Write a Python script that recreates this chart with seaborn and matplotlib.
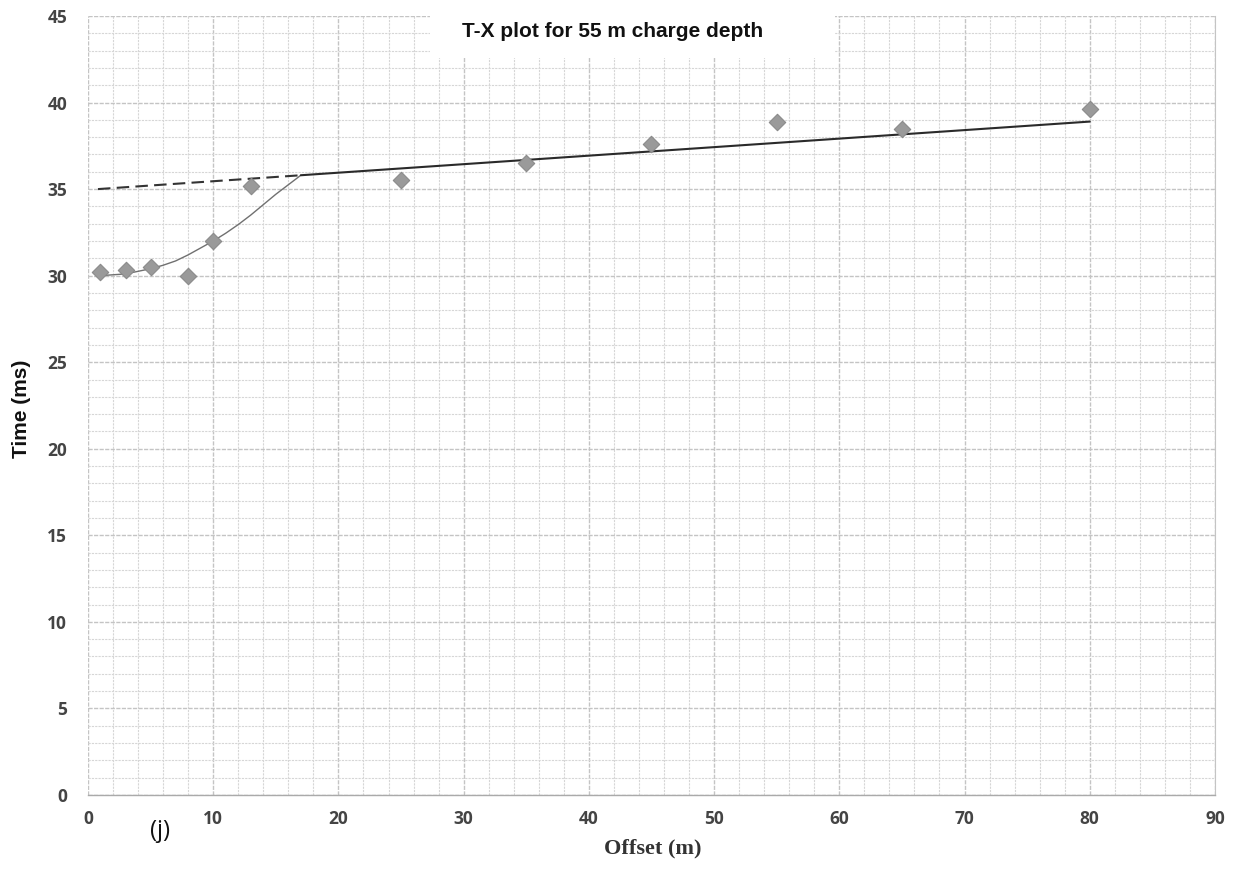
import numpy as np
import pandas as pd
import matplotlib
matplotlib.use("Agg")
import matplotlib.pyplot as plt
import seaborn as sns

# Data
offset_m = [1, 3, 5, 8, 10, 13, 25, 35, 45, 55, 65, 80]
time_ms = [30.2, 30.3, 30.5, 30.0, 32.0, 35.2, 35.5, 36.5, 37.6, 38.9, 38.5, 39.6]

# hand-drawn direct-wave curve
curve_x = [1, 2, 3, 4, 5, 6, 7, 8, 9, 10, 11, 12, 13, 14, 15, 16, 17]
curve_t = [30.0, 30.05, 30.1, 30.25, 30.4, 30.6, 30.85, 31.2, 31.6, 32.0,
           32.45, 32.95, 33.5, 34.1, 34.7, 35.25, 35.8]

# refracted line (dashed extrapolation and solid part)
dash_x = [0.8, 17]
dash_t = [35.0, 35.8]
solid_x = [17, 80]
solid_t = [35.8, 38.9]

x_ticks = [0, 10, 20, 30, 40, 50, 60, 70, 80, 90]
y_ticks = [0, 5, 10, 15, 20, 25, 30, 35, 40, 45]

sns.set_style("white")
fig = plt.figure(figsize=(12.39, 8.69), dpi=100)
ax = fig.add_axes([0.071, 0.0852, 0.9096, 0.8964])

# graph paper grid
ax.set_xticks(np.arange(0, 91, 2), minor=True)
ax.set_yticks(np.arange(0, 46, 1), minor=True)
ax.grid(which="minor", color="#d6d6d6", linestyle=(0, (2, 1)), linewidth=0.8)
ax.grid(which="major", color="#c4c4c4", linestyle=(0, (3, 1)), linewidth=1.0)
ax.set_axisbelow(True)

df = pd.DataFrame({"x": offset_m, "t": time_ms})
sns.lineplot(x=curve_x, y=curve_t, ax=ax, color="#707070", linewidth=1.0, sort=False)
sns.lineplot(x=dash_x, y=dash_t, ax=ax, color="#333333", linewidth=1.5,
             linestyle=(0, (6, 3)), sort=False)
sns.lineplot(x=solid_x, y=solid_t, ax=ax, color="#2a2a2a", linewidth=1.5, sort=False)
sns.scatterplot(data=df, x="x", y="t", ax=ax, marker="D", s=70, color="#9a9a9a",
                edgecolor="#8a8a8a", linewidth=0.8, zorder=5)

ax.set_xlim(0, 90)
ax.set_ylim(0, 45)
ax.set_xticks(x_ticks)
ax.set_yticks(y_ticks)
ax.set_xticklabels([str(v) for v in x_ticks], fontsize=12.5, color="#444444",
                   fontfamily="Open Sans", fontweight="bold")
ax.set_yticklabels([str(v) for v in y_ticks], fontsize=12.5, color="#444444",
                   fontfamily="Open Sans", fontweight="bold")
ax.tick_params(axis="x", which="major", length=5, color="#aaaaaa", pad=6, direction="out")
ax.tick_params(axis="y", which="major", length=5, color="#cccccc", pad=10, direction="out")
ax.tick_params(which="minor", length=0)

for s in ["top", "left"]:
    ax.spines[s].set_visible(False)
ax.spines["right"].set_color("#c4c4c4")
ax.spines["right"].set_linestyle((0, (3, 1)))
ax.spines["bottom"].set_color("#aaaaaa")
ax.spines["bottom"].set_linewidth(1.0)

ax.set_xlabel("")
ax.set_ylabel("")
fig.text(0.527, 0.024, "Offset (m)", ha="center", va="center", fontsize=16,
         fontfamily="Liberation Serif", fontweight="bold", color="#333333")
fig.text(0.017, 0.529, "Time (ms)", ha="center", va="center", rotation=90,
         fontsize=15, fontfamily="Liberation Sans", fontweight="bold", color="#111111")
fig.text(0.129, 0.044, "(j)", ha="center", va="center", fontsize=17,
         fontfamily="Open Sans", color="#111111")

# title in a white box
fig.patches.append(plt.Rectangle((0.347, 0.933), 0.327, 0.07, transform=fig.transFigure,
                                 facecolor="white", edgecolor="none", zorder=3))
fig.text(0.494, 0.964, "T-X plot for 55 m charge depth", ha="center", va="center",
         fontsize=15, fontfamily="Liberation Sans", fontweight="bold", color="#111111",
         zorder=4)

fig.savefig("out.png", dpi=100)
